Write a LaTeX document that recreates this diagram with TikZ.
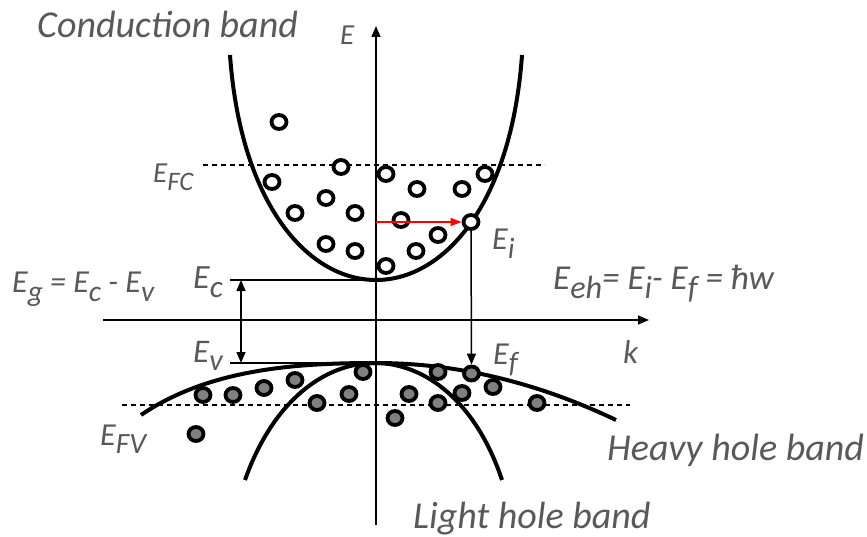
\documentclass[tikz,border=0pt]{standalone}
\usepackage{fontspec}
\usepackage{graphicx}
\setmainfont{Carlito}
\usetikzlibrary{arrows.meta,shapes.geometric}
\definecolor{txt}{HTML}{595959}
\definecolor{dotgray}{HTML}{808080}
\newcommand\fsz[1]{\fontsize{#1}{#1}\selectfont\itshape}
\newcommand\sbs[1]{\raisebox{-0.27em}{\scalebox{0.92}{#1}}}
\tikzset{
  lbl/.style={text=txt, inner sep=0pt, anchor=base west},
  band/.style={line width=4pt},
  axisline/.style={line width=1.5pt, -{Triangle[length=11pt,width=9pt]}},
  level/.style={line width=2.2pt},
  fermi/.style={line width=1.3pt, dash pattern=on 5pt off 4pt},
  elec/.style={ellipse, draw, fill=white, line width=3.8pt, inner sep=0pt, minimum width=15pt, minimum height=14pt},
  hole/.style={ellipse, draw, fill=dotgray, line width=3.8pt, inner sep=0pt, minimum width=15pt, minimum height=14pt},
}
\begin{document}
\begin{tikzpicture}[x=1pt,y=-1pt]
\useasboundingbox (0,0) rectangle (867,537);
% coordinates
\coordinate (Ebot) at (376,525);
\coordinate (Etop) at (376,26);
\coordinate (kleft) at (103,320);
\coordinate (kright) at (649,320);
\coordinate (EcL) at (230,280);
\coordinate (EcR) at (376,280);
\coordinate (EvL) at (230,363);
\coordinate (EvR) at (376,363);
\coordinate (gtop) at (241,280);
\coordinate (gbot) at (241,363);
\coordinate (FCL) at (203,165);
\coordinate (FCR) at (545,165);
\coordinate (FVL) at (122,405);
\coordinate (FVR) at (630,405);
\coordinate (redstart) at (376,222);
\coordinate (peak) at (376,363);
% axes
\draw[axisline] (Ebot) -- (Etop);
\draw[axisline] (kleft) -- (kright);
% fermi levels
\draw[fermi] (FCL) -- (FCR);
\draw[fermi] (FVL) -- (FVR);
% band edges
\draw[level] (EcL) -- (EcR);
\draw[level] (EvL) -- (EvR);
\draw[line width=1.5pt, {Triangle[length=11pt,width=9pt]}-{Triangle[length=11pt,width=9pt]}] (gtop) -- (gbot);
% bands
\draw[band] (230,55) .. controls (251.5,355) and (500.5,355) .. (522,55);
\draw[band] (141,415) .. controls (210,368) and (300,363) .. (peak) .. controls (456,363) and (536,382) .. (616,420);
\draw[band] (245,480) .. controls (300,324) and (450,324) .. (502,480);
% electrons
\foreach \x/\y [count=\i] in {279/122, 341/167, 272/182, 386/174, 417/189, 462/189, 485/174, 326/198, 295/213, 355/213, 401/220, 438/235, 326/244, 355/251, 416/251, 386/266}
  \node[elec] (e\i) at (\x,\y) {};
% holes
\foreach \x/\y [count=\i] in {203/395, 233/395, 264/388, 295/380, 317/403, 349/394, 363/372, 395/418, 409/394, 438/372, 438/403, 462/393, 493/387, 537/403, 196/434}
  \node[hole] (h\i) at (\x,\y) {};
\node[hole] (Ef) at (471.5,373.5) {};
\node[elec] (Ei) at (471,222) {};
% transitions
\draw[red, line width=1.5pt, -{Triangle[length=11pt,width=8pt]}] (redstart) -- (Ei.west);
\draw[line width=1.5pt, -{Triangle[length=11pt,width=9pt]}] (Ei.south) -- (Ef.north);
% labels
\node[lbl, font=\fsz{38}] (tcb) at (37,37.5) {Conduction band};
\node[lbl, font=\fsz{29}] (tE) at (340,45) {E};
\node[lbl, font=\fsz{29}] (tFC) at (153,183) {E\sbs{FC}};
\node[lbl, font=\fsz{32}] (tEi) at (492,250) {E\sbs{i}};
\node[lbl, font=\fsz{35}] (teh) at (553,289) {E\sbs{eh}= E\sbs{i}- E\sbs{f} = ħw};
\node[lbl, font=\fsz{32}] (tEg) at (12,293) {E\sbs{g} = E\sbs{c} - E\sbs{v}};
\node[lbl, font=\fsz{34}] (tEc) at (193,288) {E\sbs{c}};
\node[lbl, font=\fsz{33}] (tEv) at (193,362) {E\sbs{v}};
\node[lbl, font=\fsz{33}] (tk) at (623,363) {k};
\node[lbl, font=\fsz{32}] (tEf) at (493,364) {E\sbs{f}};
\node[lbl, font=\fsz{32}] (tFV) at (100,445) {E\sbs{FV}};
\node[lbl, font=\fsz{38}] (thh) at (607,460) {Heavy hole band};
\node[lbl, font=\fsz{38}] (tlh) at (413,528) {Light hole band};
\end{tikzpicture}
\end{document}
